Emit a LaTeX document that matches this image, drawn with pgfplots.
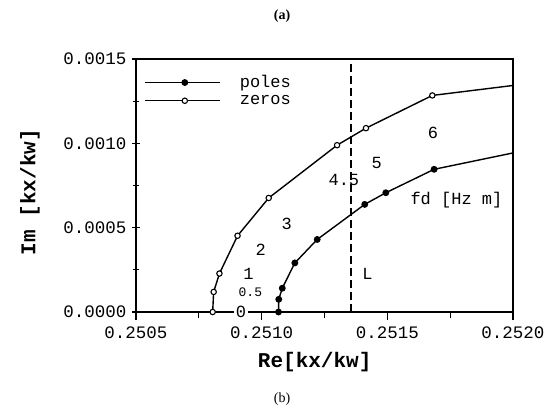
\documentclass[border=0pt]{standalone}
\usepackage{fontspec}
\setmainfont{Liberation Mono}
\newfontfamily\serif{Liberation Serif}
\usepackage{pgfplots}
\pgfplotsset{compat=1.18}
\begin{document}
\begin{tikzpicture}[x=1pt,y=1pt]
\useasboundingbox (0,0) rectangle (549,410);
\begin{axis}[
  at={(136pt,98pt)}, anchor=south west,
  scale only axis, width=377pt, height=253pt,
  xmin=0.2505, xmax=0.2520, ymin=0, ymax=0.0015,
  xtick={0.2505,0.2510,0.2515,0.2520},
  ytick={0,0.0005,0.0010,0.0015},
  minor xtick={0.25075,0.25125,0.25175},
  minor ytick={0.00025,0.00075,0.00125},
  scaled ticks=false,
  /pgf/number format/fixed,
  /pgf/number format/fixed zerofill,
  /pgf/number format/precision=4,
  /pgf/number format/assume math mode=true,
  ticklabel style={font=\fontsize{17.5}{17.5}\selectfont},
  xticklabel style={yshift=-3pt},
  yticklabel style={xshift=-2pt},
  xtick pos=bottom, ytick pos=left,
  xtick align=outside, ytick align=center,
  major tick length=8pt, minor tick length=6pt,
  every tick/.style={black, line width=1.1pt},
  axis line style={line width=1.4pt},
  xlabel={\bfseries Re[kx/kw]},
  ylabel={\bfseries Im [kx/kw]},
  label style={font=\fontsize{21}{21}\selectfont\bfseries},
  xlabel style={at={(axis description cs:0.474,-0.198)}, anchor=center},
  ylabel style={at={(axis description cs:-0.281,0.474)}, anchor=center},
  legend style={draw=none, fill=none, at={(axis description cs:0.021,0.943)}, anchor=north west,
    font=\fontsize{17}{17}\selectfont, row sep=2pt, inner sep=0pt},
  legend cell align=left,
  legend image code/.code={\draw[#1, mark repeat=2, mark phase=2] plot coordinates {(0pt,0pt) (40pt,0pt) (75pt,0pt)}; \path[draw=none] (0pt,0pt) -- (93pt,0pt);},
]
\addplot[black, line width=1.4pt, mark=*, mark size=2.7pt, mark options={fill=black}] coordinates {
(0.251067,0) (0.251068,0.0000753) (0.251082,0.000141) (0.251132,0.000291)
(0.251221,0.000430) (0.251410,0.000638) (0.251494,0.000707) (0.251686,0.000846)
};
\addlegendentry{poles}
\addplot[black, line width=1.4pt, mark=*, mark size=2.7pt, mark options={fill=white, line width=1.1pt}] coordinates {
(0.250805,0) (0.250809,0.000119) (0.250832,0.000228) (0.250904,0.000452)
(0.251028,0.000676) (0.251300,0.000989) (0.251415,0.001090) (0.251679,0.001284)
};
\addlegendentry{zeros}
\addplot[black, line width=1.4pt, forget plot] coordinates {(0.251686,0.000846) (0.2520,0.000943)};
\addplot[black, line width=1.4pt, forget plot] coordinates {(0.251679,0.001284) (0.2520,0.001343)};
\addplot[black, line width=1.5pt, dash pattern=on 8pt off 4pt, forget plot] coordinates {(0.251355,0) (0.251355,0.0015)};
\coordinate (zlab) at (axis cs:0.250918,0);
\begin{scope}[every node/.style={font=\fontsize{17}{17}\selectfont}]
\node at (axis cs:0.251682,0.001064) {6};
\node at (axis cs:0.251458,0.000882) {5};
\node at (axis cs:0.251327,0.000783) {4.5};
\node at (axis cs:0.251100,0.000525) {3};
\node at (axis cs:0.250996,0.000371) {2};
\node at (axis cs:0.250948,0.000228) {1};
\node[font=\fontsize{13}{13}\selectfont] at (axis cs:0.250955,0.000119) {0.5};
\node at (axis cs:0.251421,0.000228) {L};
\node at (axis cs:0.251775,0.000664) {fd [Hz m]};
\end{scope}
\end{axis}
\node[fill=white, inner sep=1.5pt, font=\fontsize{17}{17}\selectfont] at (zlab) {0};
\node[font=\serif\bfseries\fontsize{14}{14}\selectfont] at (282,394) {(a)};
\node[font=\serif\fontsize{14}{14}\selectfont] at (282,11) {(b)};
\end{tikzpicture}
\end{document}
